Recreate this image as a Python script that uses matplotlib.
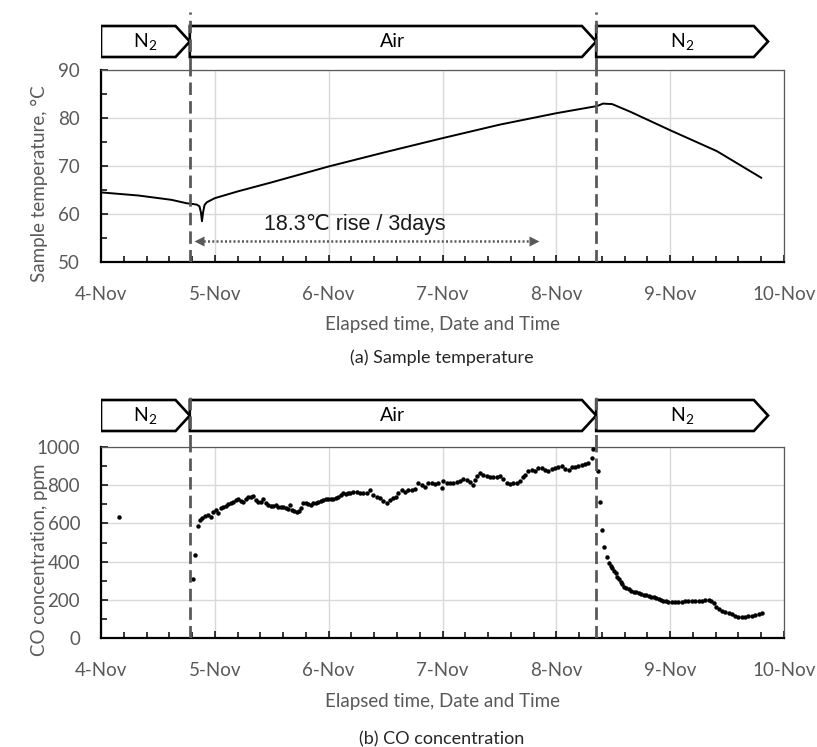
import matplotlib
matplotlib.use("Agg")
import matplotlib.pyplot as plt
from matplotlib.patches import Polygon
from matplotlib.ticker import MultipleLocator

plt.rcParams["font.family"] = ["Lato", "DejaVu Sans"]
plt.rcParams["mathtext.fontset"] = "custom"
plt.rcParams["mathtext.rm"] = "Lato"
plt.rcParams["mathtext.it"] = "Lato:italic"

# x axis: days since 4-Nov 00:00
day_labels = ["4-Nov", "5-Nov", "6-Nov", "7-Nov", "8-Nov", "9-Nov", "10-Nov"]

# gas phases shown in the bands above each panel
phase_names = ["N$_2$", "Air", "N$_2$"]
phase_start = [0.0, 0.78, 4.35]
phase_end = [0.78, 4.35, 5.86]
switch_days = [0.78, 4.35]

# (a) sample temperature, degC
temp_day = [0.0, 0.33, 0.62, 0.75, 0.84, 0.865, 0.878, 0.887, 0.897, 0.91,
            0.93, 1.0, 1.2, 1.5, 2.0, 2.5, 3.0, 3.5, 4.0, 4.36,
            4.41, 4.49, 4.65, 5.0, 5.41, 5.8]
temp_val = [64.5, 63.85, 62.95, 62.25, 61.97, 61.6, 60.3, 58.5, 60.4, 61.9,
            62.45, 63.3, 64.7, 66.6, 69.9, 72.9, 75.8, 78.6, 81.0, 82.5,
            83.0, 82.9, 81.3, 77.45, 73.1, 67.55]

# (b) CO concentration, ppm
co_day = [0.16, 0.805, 0.826,
          0.849, 0.870, 0.890, 0.914, 0.943, 0.967, 0.987, 1.008, 1.031, 1.054,
          1.075, 1.098, 1.119, 1.142, 1.163, 1.183, 1.207, 1.230, 1.251, 1.271,
          1.295, 1.315, 1.339, 1.362, 1.383, 1.406, 1.426, 1.447, 1.470, 1.494,
          1.514, 1.535, 1.558, 1.582, 1.602, 1.623, 1.640, 1.661, 1.676, 1.699,
          1.719, 1.740, 1.757, 1.778, 1.798, 1.822, 1.845, 1.866, 1.889, 1.910,
          1.933, 1.954, 1.974, 1.998, 2.021, 2.042, 2.062, 2.086, 2.109, 2.129,
          2.150, 2.173, 2.188, 2.217, 2.247, 2.276, 2.305, 2.335, 2.364, 2.393,
          2.422, 2.452, 2.481, 2.510, 2.540, 2.569, 2.592, 2.613, 2.642, 2.671,
          2.701, 2.730, 2.759, 2.789, 2.818, 2.847, 2.876, 2.906, 2.935, 2.964,
          2.994, 3.008, 3.038, 3.067, 3.096, 3.125, 3.155, 3.184, 3.213, 3.243,
          3.266, 3.286, 3.307, 3.330, 3.360, 3.389, 3.418, 3.448, 3.477, 3.506,
          3.535, 3.565, 3.594, 3.623, 3.653, 3.682, 3.705, 3.726, 3.755, 3.784,
          3.814, 3.843, 3.872, 3.902, 3.931, 3.960, 3.989, 4.019, 4.048, 4.077,
          4.107, 4.136, 4.165, 4.194, 4.224, 4.253, 4.282, 4.312,
          4.326, 4.370, 4.385, 4.405, 4.423, 4.443,
          4.467, 4.479, 4.493, 4.508, 4.523, 4.537, 4.552, 4.567, 4.581, 4.596,
          4.613, 4.634, 4.654, 4.678, 4.701, 4.722, 4.742, 4.766, 4.789, 4.810,
          4.830, 4.854, 4.877, 4.898, 4.918, 4.941, 4.965, 4.985, 5.015, 5.044,
          5.073, 5.103, 5.132, 5.161, 5.190, 5.220, 5.249, 5.278, 5.308, 5.337,
          5.360, 5.381, 5.401, 5.425, 5.454, 5.483, 5.513, 5.542, 5.571, 5.600,
          5.630, 5.659, 5.688, 5.718, 5.747, 5.776, 5.806]
co_ppm = [632, 307, 433,
          586, 618, 627, 639, 644, 635, 661, 670, 653, 679,
          688, 693, 700, 705, 714, 722, 726, 717, 714, 726,
          736, 740, 743, 722, 712, 714, 726, 705, 696, 693,
          691, 696, 688, 688, 684, 679, 674, 696, 670, 667,
          661, 667, 679, 705, 709, 702, 696, 705, 705, 714,
          717, 722, 726, 726, 726, 728, 731, 740, 749, 757,
          752, 761, 761, 766, 766, 757, 757, 761, 775, 749,
          740, 731, 719, 709, 722, 731, 740, 761, 775, 766,
          775, 775, 778, 810, 801, 792, 810, 813, 806, 813,
          784, 824, 813, 813, 813, 818, 824, 831, 827, 818,
          801, 827, 848, 866, 853, 848, 845, 841, 841, 848,
          831, 813, 806, 813, 810, 824, 841, 853, 876, 880,
          876, 888, 888, 880, 876, 883, 888, 897, 901, 883,
          880, 894, 897, 901, 906, 911, 914, 941,
          990, 876, 714, 565, 478, 426,
          391, 377, 365, 353, 339, 321, 307, 295, 281, 269,
          260, 255, 248, 243, 243, 237, 230, 225, 223, 220,
          216, 213, 208, 202, 199, 194, 192, 190, 190, 188,
          188, 190, 192, 192, 194, 194, 195, 195, 197, 197,
          194, 182, 164, 152, 143, 136, 129, 124, 117, 112,
          110, 112, 113, 117, 120, 124, 129]

TICK_GRAY = "#595959"
GRID = "#d9d9d9"
DASH = (0, (4.5, 2.2))

fig = plt.figure(figsize=(8.17, 7.47), dpi=100)
W, H = 817, 747


def px_axes(x0, y0, x1, y1):
    return fig.add_axes([x0 / W, 1 - y1 / H, (x1 - x0) / W, (y1 - y0) / H])


def style_main(ax):
    ax.set_xlim(0, 6)
    ax.set_xticks(range(7))
    ax.set_xticklabels(day_labels)
    ax.xaxis.set_minor_locator(MultipleLocator(0.2))
    ax.grid(True, which="major", color=GRID, lw=1.0)
    ax.set_axisbelow(True)
    for side in ("left", "bottom"):
        ax.spines[side].set_color("black")
        ax.spines[side].set_linewidth(1.6)
    for side in ("top", "right"):
        ax.spines[side].set_color(TICK_GRAY)
        ax.spines[side].set_linewidth(0.9)
    ax.tick_params(which="major", direction="in", length=5, width=1.1,
                   color="black", labelsize=13.5, labelcolor=TICK_GRAY)
    ax.tick_params(which="minor", direction="in", length=4, width=1.1,
                   color="black")
    ax.tick_params(axis="x", which="major", pad=17)
    ax.tick_params(axis="y", which="major", pad=15)
    ax.set_xlabel("Elapsed time, Date and Time", fontsize=13.5,
                  color=TICK_GRAY, labelpad=10)
    for d in switch_days:
        ax.axvline(d, color=TICK_GRAY, lw=2.0, ls=DASH, zorder=4)


def draw_band(axb, y_lo, y_hi):
    axb.set_xlim(0, 6)
    axb.set_ylim(0, 1)
    axb.axis("off")
    tip = 0.125
    y_mid = (y_lo + y_hi) / 2
    for name, s, e in zip(phase_names, phase_start, phase_end):
        pts = [(s, y_lo), (s, y_hi), (e - tip, y_hi), (e, y_mid), (e - tip, y_lo)]
        axb.add_patch(Polygon(pts, closed=True, facecolor="white",
                              edgecolor="black", lw=1.9, joinstyle="miter"))
        axb.text((s + e) / 2, y_mid, name, ha="center", va="center",
                 fontsize=14, color="black")
    for d in switch_days:
        axb.axvline(d, color=TICK_GRAY, lw=2.0, ls=DASH, zorder=5)


# ---- (a) temperature
ax1 = px_axes(101, 70, 784, 262)
band1 = px_axes(101, 12, 784, 70)
draw_band(band1, 13 / 58, 44 / 58)
style_main(ax1)
ax1.set_ylim(50, 90)
ax1.yaxis.set_major_locator(MultipleLocator(10))
ax1.yaxis.set_minor_locator(MultipleLocator(5))
ax1.plot(temp_day, temp_val, color="black", lw=1.4, zorder=3)
ax1.set_ylabel("Sample temperature, °C", fontsize=13.5, color=TICK_GRAY)
ax1.yaxis.set_label_coords(-0.077, 0.41)

# 18.3 degC rise annotation
ax1.plot([0.86, 3.80], [54.4, 54.4], color=TICK_GRAY, lw=1.8,
         ls=(0, (0.8, 0.9)), zorder=3)
ax1.plot([0.86], [54.4], marker="<", ms=7, color=TICK_GRAY, mec="none", zorder=3)
ax1.plot([3.80], [54.4], marker=">", ms=7, color=TICK_GRAY, mec="none", zorder=3)
ax1.text(2.23, 57.8, "18.3℃ rise / 3days", ha="center", va="center",
         fontsize=15.5, family=["Liberation Sans", "DejaVu Sans"], color="#1a1a1a")

fig.text(442 / W, 1 - 358 / H, "(a) Sample temperature", ha="center",
         va="center", fontsize=13, color="#262626")

# ---- (b) CO concentration
ax2 = px_axes(101, 447, 784, 638)
band2 = px_axes(101, 392, 784, 447)
draw_band(band2, 16 / 55, 47 / 55)
style_main(ax2)
ax2.set_ylim(0, 1000)
ax2.yaxis.set_major_locator(MultipleLocator(200))
ax2.yaxis.set_minor_locator(MultipleLocator(100))
ax2.plot(co_day, co_ppm, "o", ms=3.2, color="black", mec="none", zorder=3)
ax2.set_ylabel("CO concentration, ppm", fontsize=13.5, color=TICK_GRAY)
ax2.yaxis.set_label_coords(-0.077, 0.41)

fig.text(442 / W, 1 - 739 / H, "(b) CO concentration", ha="center",
         va="center", fontsize=13, color="#262626")

fig.savefig("out.png", dpi=100)
